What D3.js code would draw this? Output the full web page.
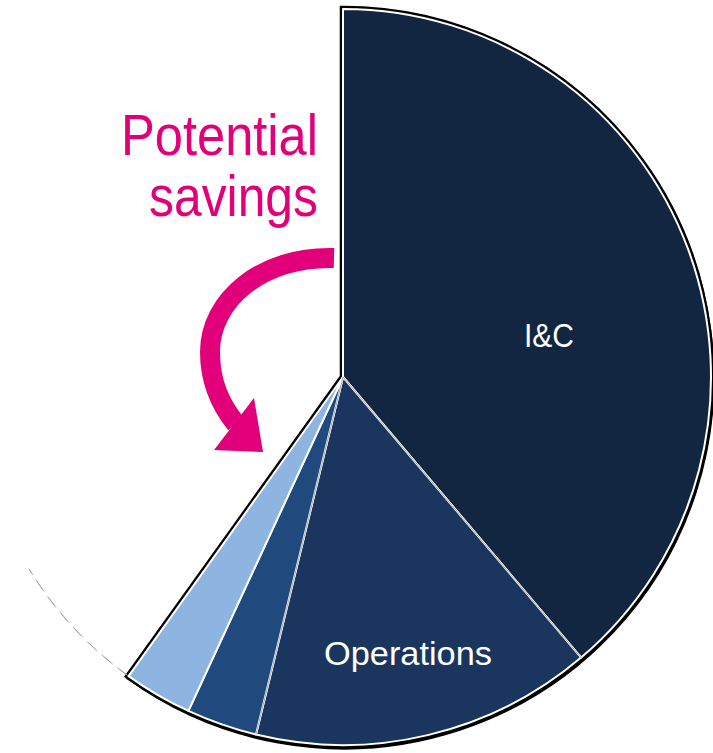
<!DOCTYPE html>
<head>
  <meta charset="utf-8">
  <title>Potential savings</title>
  <script src="https://d3js.org/d3.v7.min.js"></script>
  <style>
    body { margin: 0; background: #fff; }
    text { font-family: "Liberation Sans", Arial, sans-serif; }
  </style>
</head>
<body>
  <script>
    // slice shares in percent, clockwise from 12 o'clock
    var categories = ["I&C", "Operations", "Other A", "Other B", "Rest"],
        values = [38.8, 15.0, 3.1, 3.0, 40.1],
        colors = ["#132641", "#1b365e", "#204a7d", "#8eb4e2", "#ffffff"],
        labels = ["I&C", "Operations", "", "", ""];

    var width = 713,
        height = 753,
        cx = 343,
        cy = 377,
        radius = 368,
        svg = d3.select("body").append("svg")
          .attr("width", width)
          .attr("height", height),
        g = svg.append("g")
          .attr("transform", "translate(" + cx + "," + cy + ")");

    var pie = d3.pie().sort(null).value(function (d) { return d; }),
        arcs = pie(values),
        arc = d3.arc().innerRadius(0).outerRadius(radius);

    // outline of the coloured part (everything except the blank "rest")
    var colouredEnd = arcs[3].endAngle;
    var outline = d3.arc().innerRadius(0).outerRadius(radius)
      .startAngle(0).endAngle(colouredEnd);

    g.append("path")
      .attr("d", outline())
      .attr("transform", "translate(1,2)")
      .attr("fill", "#000")
      .attr("stroke", "#000")
      .attr("stroke-width", 5);
    g.append("path")
      .attr("d", outline())
      .attr("fill", "#000")
      .attr("stroke", "#000")
      .attr("stroke-width", 6.5)
      .attr("stroke-linejoin", "miter");

    // faint rim of the blank slice
    g.append("path")
      .attr("d", d3.arc().innerRadius(radius).outerRadius(radius)
        .startAngle(colouredEnd).endAngle(colouredEnd + 0.4)())
      .attr("fill", "none")
      .attr("stroke", "#999")
      .attr("stroke-width", 0.8)
      .attr("stroke-dasharray", "12 8");

    g.selectAll(".slice")
        .data(arcs.slice(0, 4))
      .enter().append("path")
        .attr("class", "slice")
        .attr("d", arc)
        .attr("fill", function (d, i) { return colors[i]; })
        .attr("stroke", "#fff")
        .attr("stroke-width", 2)
        .attr("stroke-linejoin", "round");

    // thin dark seam inside the double white separators
    g.selectAll(".seam")
        .data([arcs[0].endAngle, arcs[1].endAngle])
      .enter().append("line")
        .attr("class", "seam")
        .attr("x1", 0).attr("y1", 0)
        .attr("x2", function (a) { return radius * Math.sin(a); })
        .attr("y2", function (a) { return -radius * Math.cos(a); })
        .attr("stroke", "#8a8f99")
        .attr("stroke-width", 0.8);

    // slice labels
    var labelPos = [[206, -30], [65, 288]];
    labels.forEach(function (t, i) {
      if (!t) return;
      g.append("text")
        .attr("x", labelPos[i][0])
        .attr("y", labelPos[i][1])
        .attr("text-anchor", "middle")
        .attr("font-size", i === 0 ? 33 : 34)
        .attr("fill", "#fff")
        .attr("textLength", i === 0 ? 50 : 168)
        .attr("lengthAdjust", "spacingAndGlyphs")
        .text(t);
    });

    // annotation
    var magenta = "#e2007a";
    var note = svg.append("g").attr("fill", magenta);
    note.append("text")
      .attr("x", 318).attr("y", 155)
      .attr("text-anchor", "end")
      .attr("font-size", 58)
      .attr("textLength", 197)
      .attr("lengthAdjust", "spacingAndGlyphs")
      .text("Potential");
    note.append("text")
      .attr("x", 318).attr("y", 216)
      .attr("text-anchor", "end")
      .attr("font-size", 58)
      .attr("textLength", 169)
      .attr("lengthAdjust", "spacingAndGlyphs")
      .text("savings");

    svg.append("path")
      .attr("d", "M334,258 C262,256 210,300 210,352 C210,382 220,404 236,424")
      .attr("fill", "none")
      .attr("stroke", magenta)
      .attr("stroke-width", 20);
    svg.append("path")
      .attr("d", "M214,450 L254,398 L263,452 Z")
      .attr("fill", magenta);
  </script>
</body>
